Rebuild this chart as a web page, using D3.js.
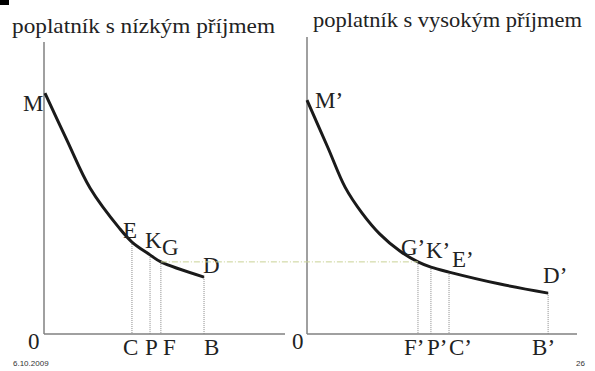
<!DOCTYPE html>
<meta charset="utf-8">
<script src="https://d3js.org/d3.v7.min.js"></script>
<style>
	body{
		margin:0;
		background:#fff;
	}
	.serif{
		font-family:'Liberation Serif','Times New Roman',serif;
		fill:#222;
	}
	.foot{
		font-family:'Liberation Sans',Arial,sans-serif;
		font-size:8px;
		fill:#333;
	}
</style>
<div id="chart"></div>
<script>
// titles
var titleLow = "poplatník s nízkým příjmem"
var titleHigh = "poplatník s vysokým příjmem"

// curve points (x = income units, y = marginal utility units), low-income taxpayer
var lowX = [0.4, 9.5, 19.1, 31.5, 36.5, 44.0, 48.5, 66.4]
var lowY = [82.5, 66.4, 50.0, 36.0, 31.5, 27.1, 24.7, 19.5]
// high-income taxpayer
var highX = [0, 7.8, 14.1, 20.4, 27.0, 34.4, 41.1, 45.9, 52.6, 71.5, 89.3]
var highY = [80.1, 63.7, 50.3, 41.4, 34.2, 28.4, 24.7, 22.9, 21.2, 17.1, 14.0]

// marked points on the curves
var lowMarksX = [36.5, 44.0, 48.5, 66.4]
var lowMarksY = [31.5, 27.1, 24.7, 19.5]
var lowCurveLabels = ["E","K","G","D"]
var lowAxisLabels = ["C","P","F","B"]

var highMarksX = [41.1, 45.9, 52.6, 89.3]
var highMarksY = [24.7, 22.9, 21.2, 14.0]
var highCurveLabels = ["G’","K’","E’","D’"]
var highAxisLabels = ["F’","P’","C’","B’"]

var startLabels = ["M","M’"]
var footDate = "6.10.2009"
var footPage = "26"

// ---- layout
var w = 595, h = 371
var labelSize = "23px"
var svg = d3.select("#chart").append("svg").attr("width",w).attr("height",h)

svg.append("rect").attr("x",0).attr("y",0).attr("width",9).attr("height",5).attr("fill","#000")

var yScale = d3.scaleLinear().domain([0,100]).range([334,42])

var panels = [
	{xs:d3.scaleLinear().domain([0,100]).range([44,285]), top:42,
	 cx:lowX, cy:lowY, mx:lowMarksX, my:lowMarksY, cl:lowCurveLabels, al:lowAxisLabels,
	 title:titleLow, tx:12, ty:33, tl:263, start:startLabels[0], sOff:[-22,18],
	 clOff:[[-9,-4],[-5,-7],[1,-7],[-1,-4]], alOff:[-9,-5,2,0], zeroX:28},
	{xs:d3.scaleLinear().domain([0,100]).range([307,577]), top:37,
	 cx:highX, cy:highY, mx:highMarksX, my:highMarksY, cl:highCurveLabels, al:highAxisLabels,
	 title:titleHigh, tx:313, ty:27, tl:269, start:startLabels[1], sOff:[8,8],
	 clOff:[[-17,-7],[-5,-9],[3,-5],[-5,-10]], alOff:[-14,-4,0,-16], zeroX:292}
]

panels.forEach(function(p){
	var g = svg.append("g")
	var x0 = p.xs(0), y0 = yScale(0)

	g.append("text").attr("class","serif").text(p.title)
		.attr("x",p.tx).attr("y",p.ty)
		.attr("textLength",p.tl).attr("lengthAdjust","spacingAndGlyphs")
		.style("font-size","21px")

	// drop lines
	g.selectAll(".drop").data(p.mx).join("line")
		.attr("x1",function(d){return p.xs(d)}).attr("x2",function(d){return p.xs(d)})
		.attr("y1",function(d,i){return yScale(p.my[i])}).attr("y2",y0)
		.attr("stroke","#8a8a8a").attr("stroke-width",1).attr("stroke-dasharray","1 1")

	// axes
	g.append("line").attr("x1",x0).attr("x2",x0).attr("y1",p.top).attr("y2",y0)
		.attr("stroke","#808080").attr("stroke-width",1.5)
	g.append("line").attr("x1",x0).attr("x2",p.xs(100)).attr("y1",y0).attr("y2",y0)
		.attr("stroke","#808080").attr("stroke-width",1.5)

	var line = d3.line()
		.x(function(d,i){return p.xs(p.cx[i])})
		.y(function(d){return yScale(d)})
		.curve(d3.curveCatmullRom.alpha(0.5))
	g.append("path").attr("d",line(p.cy))
		.attr("fill","none").attr("stroke","#1a1a1a").attr("stroke-width",3)

	g.append("text").attr("class","serif").text(p.start)
		.attr("x",p.xs(p.cx[0])+p.sOff[0]).attr("y",yScale(p.cy[0])+p.sOff[1])
		.style("font-size",labelSize)

	g.selectAll(".cl").data(p.cl).join("text").attr("class","serif").text(function(d){return d})
		.attr("x",function(d,i){return p.xs(p.mx[i])+p.clOff[i][0]})
		.attr("y",function(d,i){return yScale(p.my[i])+p.clOff[i][1]})
		.style("font-size",labelSize)

	g.selectAll(".al").data(p.al).join("text").attr("class","serif").text(function(d){return d})
		.attr("x",function(d,i){return p.xs(p.mx[i])+p.alOff[i]})
		.attr("y",355)
		.style("font-size",labelSize)

	g.append("text").attr("class","serif").text("0").attr("x",p.zeroX).attr("y",349).style("font-size",labelSize)
})

// horizontal guide G -> G'
svg.append("line")
	.attr("x1",panels[0].xs(lowMarksX[2])).attr("x2",panels[1].xs(highMarksX[0]))
	.attr("y1",yScale(lowMarksY[2])).attr("y2",yScale(highMarksY[0]))
	.attr("stroke","#c9d296").attr("stroke-width",1).attr("stroke-dasharray","6 2 1 2")

svg.append("text").attr("class","foot").text(footDate).attr("x",13).attr("y",366)
svg.append("text").attr("class","foot").text(footPage).attr("x",576).attr("y",366)
</script>
